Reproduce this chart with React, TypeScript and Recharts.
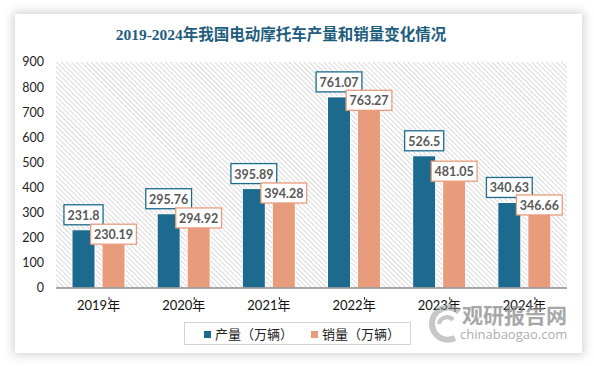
import React from 'react';
import { BarChart, Bar, XAxis, YAxis, CartesianGrid, LabelList } from 'recharts';

const years = ['2019年', '2020年', '2021年', '2022年', '2023年', '2024年'];
const production = [231.8, 295.76, 395.89, 761.07, 526.5, 340.63];
const sales = [230.19, 294.92, 394.28, 763.27, 481.05, 346.66];
const yTicks = [0, 100, 200, 300, 400, 500, 600, 700, 800, 900];

const BLUE = '#1c6b8f';
const ORANGE = '#e89c7b';

const data = years.map((y, i) => ({ year: y, prod: production[i], sale: sales[i] }));

const numFont = "Lato, 'Noto Sans CJK SC', sans-serif";

const textWidth = (s: string) => {
  let w = 0;
  for (const c of s) w += c === '.' ? 3.3 : 6.7;
  return w;
};

const makeLabel = (color: string, dy: number) => (props: any) => {
  const { x, y, width, value } = props;
  const cx = Number(x) + Number(width) / 2;
  const cy = Number(y) + dy;
  const txt = String(value);
  const w = textWidth(txt) + 9;
  return (
    <g>
      <rect x={cx - w / 2} y={cy - 10} width={w} height={20} fill="#fff" stroke={color} strokeWidth={1.3} />
      <text x={cx} y={cy + 0.5} textAnchor="middle" dominantBaseline="central" fontFamily={numFont} fontWeight="bold" fontSize={12.5} fill="#595959">
        {txt}
      </text>
    </g>
  );
};

const XTick = (props: any) => {
  const { x, y, payload } = props;
  return (
    <g>
      <line x1={x + 10.5} x2={x + 10.5} y1={y + 9} y2={y + 12} stroke="#333" strokeWidth={1} />
      <text x={x} y={y + 22} textAnchor="middle" fontFamily={numFont} fontSize={13} fill="#111">
        {payload.value}
      </text>
    </g>
  );
};

export default function App() {
  return (
    <div style={{ position: 'absolute', left: 0, top: 0, width: 594, height: 366, background: '#fff', overflow: 'hidden' }}>
      <svg width={0} height={0} style={{ position: 'absolute' }}>
        <defs>
          <pattern id="hatch" patternUnits="userSpaceOnUse" width={3.5} height={3.5} patternTransform="rotate(45)">
            <rect width={3.5} height={3.5} fill="#fff" />
            <line x1={0} y1={0.5} x2={3.5} y2={0.5} stroke="#d9d9d9" strokeWidth={1} />
          </pattern>
        </defs>
      </svg>
      <div
        style={{
          position: 'absolute',
          left: 15,
          top: 14,
          width: 567,
          height: 339,
          background: '#fff',
          boxShadow: '0 0 10px 2px rgba(0,0,0,0.18)',
        }}
      />
      <div
        style={{
          position: 'absolute',
          left: 0,
          top: 26,
          width: 562,
          textAlign: 'center',
          fontFamily: "'Liberation Serif', 'Noto Sans CJK SC', serif",
          fontWeight: 'bold',
          fontSize: 15.5,
          lineHeight: '18px',
          color: '#1f5d7e',
          whiteSpace: 'nowrap',
        }}
      >
        2019-2024年我国电动摩托车产量和销量变化情况
      </div>
      <div style={{ position: 'absolute', left: 0, top: 0 }}>
        <BarChart
          width={594}
          height={366}
          data={data}
          margin={{ top: 62, right: 27, bottom: 48, left: 0 }}
          barSize={23}
          barGap={7}
        >
          <CartesianGrid horizontal={false} vertical={false} fill="url(#hatch)" stroke="none" />
          <XAxis
            dataKey="year"
            height={30}
            tickSize={0}
            tickMargin={0}
            tickLine={false}
            axisLine={{ stroke: '#8c8c8c', strokeWidth: 1.5 }}
            tick={<XTick />}
            interval={0}
          />
          <YAxis
            width={56}
            domain={[0, 900]}
            ticks={yTicks}
            axisLine={false}
            tickLine={false}
            tickMargin={12}
            tickSize={0}
            tick={{ fontFamily: numFont, fontSize: 12.5, fill: '#222' }}
          />
          <Bar dataKey="prod" fill={BLUE} stroke="#fff" strokeWidth={1} isAnimationActive={false}>
            <LabelList dataKey="prod" content={makeLabel(BLUE, -15)} />
          </Bar>
          <Bar dataKey="sale" fill={ORANGE} stroke="#fff" strokeWidth={1} isAnimationActive={false}>
            <LabelList dataKey="sale" content={makeLabel(ORANGE, 4)} />
          </Bar>
        </BarChart>
      </div>
      <div
        style={{
          position: 'absolute',
          left: 184,
          top: 322,
          width: 227,
          height: 23,
          border: '1px solid #d4d4d4',
          boxSizing: 'border-box',
          fontFamily: "'Noto Sans CJK SC', sans-serif",
          fontSize: 13,
          color: '#222',
        }}
      >
        <div style={{ position: 'absolute', left: 19, top: 8, width: 7, height: 7, background: BLUE }} />
        <div style={{ position: 'absolute', left: 30, top: 1, lineHeight: '19px', whiteSpace: 'nowrap' }}>产量（万辆）</div>
        <div style={{ position: 'absolute', left: 126, top: 8, width: 7, height: 7, background: ORANGE }} />
        <div style={{ position: 'absolute', left: 137, top: 1, lineHeight: '19px', whiteSpace: 'nowrap' }}>销量（万辆）</div>
      </div>
      <svg width={40} height={50} style={{ position: 'absolute', left: 425, top: 298, opacity: 0.55 }}>
        <path d="M 34 14 A 16 16 0 1 0 30 40" fill="none" stroke="#9a9a9a" strokeWidth={6} />
        <path d="M 14 26 A 8 8 0 0 1 28 22" fill="none" stroke="#9a9a9a" strokeWidth={4} />
      </svg>
      <div
        style={{
          position: 'absolute',
          left: 462,
          top: 301,
          fontFamily: "'Noto Sans CJK SC', sans-serif",
          fontWeight: 'bold',
          fontSize: 21,
          lineHeight: '26px',
          color: '#8a8a8a',
          opacity: 0.75,
          whiteSpace: 'nowrap',
        }}
      >
        观研报告网
      </div>
      <div
        style={{
          position: 'absolute',
          left: 460,
          top: 326,
          fontFamily: "'Open Sans', sans-serif",
          fontSize: 13,
          lineHeight: '16px',
          color: '#9a9a9a',
          opacity: 0.8,
          whiteSpace: 'nowrap',
        }}
      >
        chinabaogao.com
      </div>
    </div>
  );
}
